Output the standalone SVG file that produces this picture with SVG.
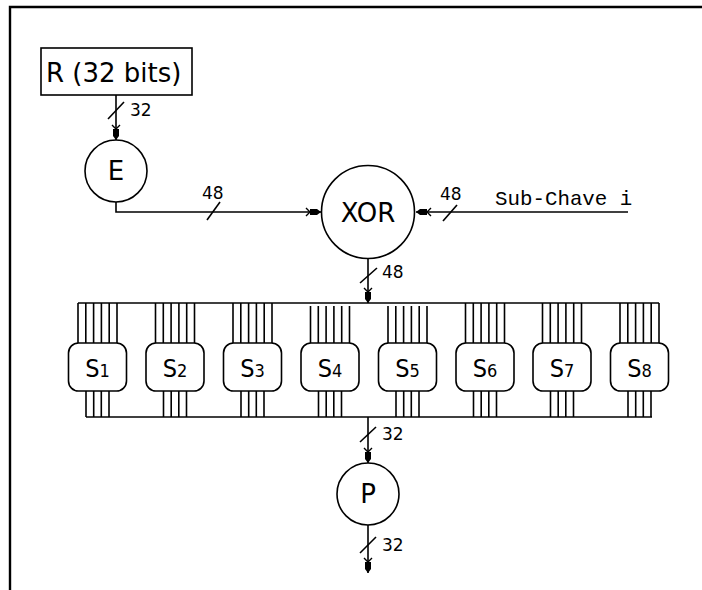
<svg xmlns="http://www.w3.org/2000/svg" width="702" height="590" viewBox="0 0 702 590">
<style>
.ln{stroke:#000;stroke-width:1.6;fill:none}
.nd{stroke:#000;stroke-width:1.6;fill:#fff}
.lbl{font-family:"DejaVu Sans","Liberation Sans",sans-serif;font-size:17px;fill:#000}
.big{font-family:"DejaVu Sans","Liberation Sans",sans-serif;font-size:26px;fill:#000}
.sl{font-family:"DejaVu Sans Condensed","DejaVu Sans",sans-serif;font-size:25px;fill:#000}
.mono{font-family:"Liberation Mono","Courier New",monospace;font-size:20.8px;fill:#000}
</style>
<defs>
<marker id="arr" viewBox="-16 -6 18 12" refX="0" refY="0" markerWidth="18" markerHeight="12" markerUnits="userSpaceOnUse" orient="auto">
<path d="M-15,-4 L-11,0 L-15,4" stroke="#000" stroke-width="1.4" fill="none"/>
<path d="M-11,-3 L-4,-3 L0,0 L-4,3 L-11,3 Z" fill="#000"/>
</marker>
</defs>
<rect width="702" height="590" fill="#fff"/>
<path d="M10,590 V7 H702" stroke="#000" stroke-width="2.4" fill="none"/>

<g id="connectors">
<line class="ln" x1="116" y1="95" x2="116" y2="140" marker-end="url(#arr)"/>
<line class="ln" x1="108" y1="119" x2="124" y2="102"/>
<text class="lbl" x="130" y="116">32</text>

<path class="ln" d="M116,202 V212 H321" marker-end="url(#arr)"/>
<line class="ln" x1="207" y1="220" x2="220" y2="202"/>
<text class="lbl" x="202" y="199">48</text>

<line class="ln" x1="628" y1="212" x2="416" y2="212" marker-end="url(#arr)"/>
<line class="ln" x1="443" y1="221" x2="457" y2="205"/>
<text class="lbl" x="440" y="200">48</text>
<text class="mono" x="495" y="205">Sub-Chave i</text>

<line class="ln" x1="368" y1="258" x2="368" y2="303" marker-end="url(#arr)"/>
<line class="ln" x1="360" y1="283" x2="377" y2="268"/>
<text class="lbl" x="382" y="278">48</text>

<line class="ln" x1="78" y1="303" x2="659" y2="303"/>
<line class="ln" x1="86" y1="417" x2="652" y2="417"/>

<line class="ln" x1="368" y1="417" x2="368" y2="463" marker-end="url(#arr)"/>
<line class="ln" x1="360" y1="442" x2="376" y2="427"/>
<text class="lbl" x="382" y="440">32</text>

<line class="ln" x1="368" y1="525" x2="368" y2="573" marker-end="url(#arr)"/>
<line class="ln" x1="360" y1="553" x2="376" y2="537"/>
<text class="lbl" x="382" y="551">32</text>
</g>

<g id="R">
<rect class="nd" x="41" y="48" width="151" height="47"/>
<text class="big" x="46" y="82">R (32 bits)</text>
</g>
<g id="E">
<circle class="nd" cx="116" cy="171" r="31"/>
<text class="big" x="116" y="180" text-anchor="middle">E</text>
</g>
<g id="XOR">
<circle class="nd" cx="368" cy="212" r="46.5"/>
<text class="big" x="368" y="222" text-anchor="middle">XOR</text>
</g>
<g id="P">
<circle class="nd" cx="368" cy="494" r="31"/>
<text class="big" x="368" y="503" text-anchor="middle">P</text>
</g>

<g id="S1" transform="translate(97.5,0)">
<path class="ln" d="M-19.5,303V343M-11.7,303V343M-3.9,303V343M3.9,303V343M11.7,303V343M19.5,303V343M-11.5,391V417M-3.8,391V417M3.8,391V417M11.5,391V417"/>
<rect class="nd" x="-29" y="343" width="58" height="48" rx="10"/>
<text class="sl" x="0" y="377" text-anchor="middle">S<tspan font-size="18">1</tspan></text>
</g>
<g id="S2" transform="translate(175,0)">
<path class="ln" d="M-19.5,303V343M-11.7,303V343M-3.9,303V343M3.9,303V343M11.7,303V343M19.5,303V343M-11.5,391V417M-3.8,391V417M3.8,391V417M11.5,391V417"/>
<rect class="nd" x="-29" y="343" width="58" height="48" rx="10"/>
<text class="sl" x="0" y="377" text-anchor="middle">S<tspan font-size="18">2</tspan></text>
</g>
<g id="S3" transform="translate(252.5,0)">
<path class="ln" d="M-19.5,303V343M-11.7,303V343M-3.9,303V343M3.9,303V343M11.7,303V343M19.5,303V343M-11.5,391V417M-3.8,391V417M3.8,391V417M11.5,391V417"/>
<rect class="nd" x="-29" y="343" width="58" height="48" rx="10"/>
<text class="sl" x="0" y="377" text-anchor="middle">S<tspan font-size="18">3</tspan></text>
</g>
<g id="S4" transform="translate(330,0)">
<path class="ln" d="M-19.5,306V343M-11.7,306V343M-3.9,306V343M3.9,306V343M11.7,306V343M19.5,306V343M-11.5,391V417M-3.8,391V417M3.8,391V417M11.5,391V417"/>
<rect class="nd" x="-29" y="343" width="58" height="48" rx="10"/>
<text class="sl" x="0" y="377" text-anchor="middle">S<tspan font-size="18">4</tspan></text>
</g>
<g id="S5" transform="translate(407.5,0)">
<path class="ln" d="M-19.5,306V343M-11.7,306V343M-3.9,306V343M3.9,306V343M11.7,306V343M19.5,306V343M-11.5,391V417M-3.8,391V417M3.8,391V417M11.5,391V417"/>
<rect class="nd" x="-29" y="343" width="58" height="48" rx="10"/>
<text class="sl" x="0" y="377" text-anchor="middle">S<tspan font-size="18">5</tspan></text>
</g>
<g id="S6" transform="translate(485,0)">
<path class="ln" d="M-19.5,303V343M-11.7,303V343M-3.9,303V343M3.9,303V343M11.7,303V343M19.5,303V343M-11.5,391V417M-3.8,391V417M3.8,391V417M11.5,391V417"/>
<rect class="nd" x="-29" y="343" width="58" height="48" rx="10"/>
<text class="sl" x="0" y="377" text-anchor="middle">S<tspan font-size="18">6</tspan></text>
</g>
<g id="S7" transform="translate(562,0)">
<path class="ln" d="M-19.5,303V343M-11.7,303V343M-3.9,303V343M3.9,303V343M11.7,303V343M19.5,303V343M-11.5,391V417M-3.8,391V417M3.8,391V417M11.5,391V417"/>
<rect class="nd" x="-29" y="343" width="58" height="48" rx="10"/>
<text class="sl" x="0" y="377" text-anchor="middle">S<tspan font-size="18">7</tspan></text>
</g>
<g id="S8" transform="translate(639.5,0)">
<path class="ln" d="M-19.5,303V343M-11.7,303V343M-3.9,303V343M3.9,303V343M11.7,303V343M19.5,303V343M-11.5,391V417M-3.8,391V417M3.8,391V417M11.5,391V417"/>
<rect class="nd" x="-29" y="343" width="58" height="48" rx="10"/>
<text class="sl" x="0" y="377" text-anchor="middle">S<tspan font-size="18">8</tspan></text>
</g>
</svg>
